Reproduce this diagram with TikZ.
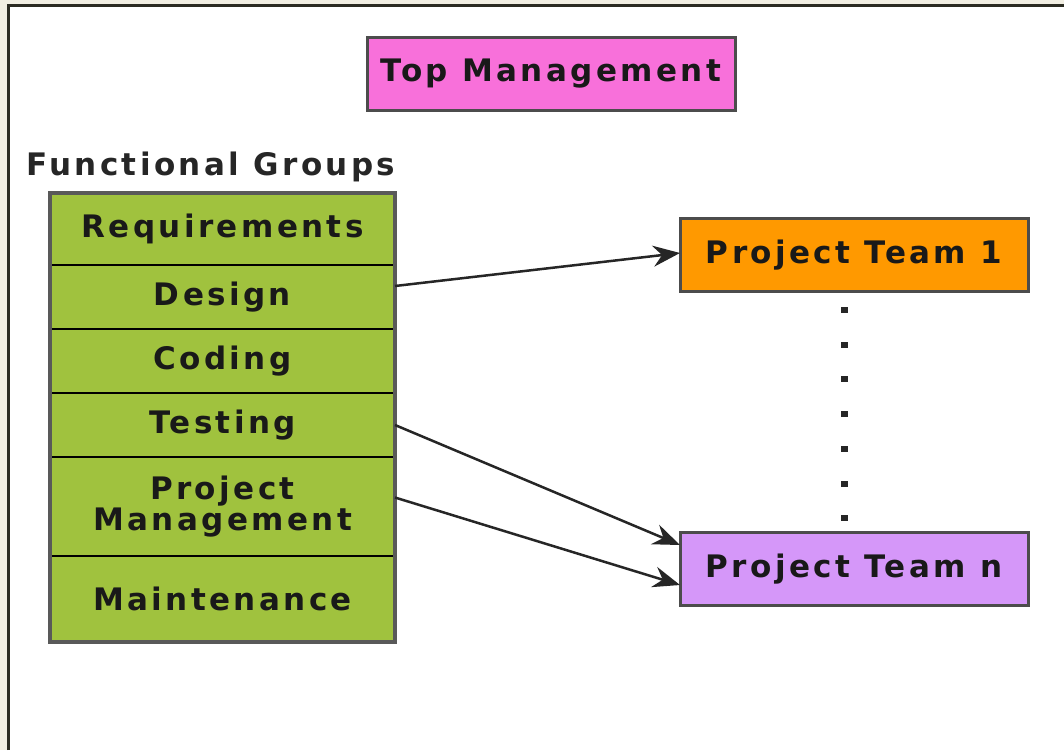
\documentclass[tikz,border=0pt]{standalone}
\usepackage{fontspec}
\newfontfamily\diafont[LetterSpace=11]{DejaVu Sans}
\usetikzlibrary{arrows.meta}
\definecolor{cream}{HTML}{F1EEE2}
\definecolor{framec}{HTML}{2B2B22}
\definecolor{topc}{HTML}{F870DA}
\definecolor{grpc}{HTML}{A0C23E}
\definecolor{teamone}{HTML}{FF9900}
\definecolor{teamn}{HTML}{D597F9}
\tikzset{
  box/.style={draw=black!70, line width=3pt, inner sep=0pt, outer sep=0pt, text=black!90,
    font=\diafont\bfseries\fontsize{31}{32}\selectfont, minimum height=73pt},
  grp/.style={draw=black, line width=1.5pt, fill=grpc, inner sep=0pt, outer sep=0pt,
    text=black!90, minimum width=345pt, align=center,
    font=\diafont\bfseries\fontsize{31}{31}\selectfont},
  arr/.style={-{Stealth[length=27pt,width=21pt,inset=9pt]}, line width=2.5pt, black!85},
}

\begin{document}
\begin{tikzpicture}[x=1pt, y=-1pt]
  \useasboundingbox (0,0) rectangle (1064,750);
  \fill[cream] (0,0) rectangle (1064,750);
  \fill[white] (8,5) rectangle (1064,750);
  \draw[framec, line width=3pt] (8,750) -- (8,5) -- (1064,5);

  \node[box, fill=topc, minimum width=368pt] (top) at (551,73.5) {Top Management};
  \node[font=\diafont\bfseries\fontsize{31}{32}\selectfont, text=black!85, anchor=west, inner sep=0pt] (fg) at (26,167) {Functional Groups};

  \node[grp, minimum height=72pt] (req) at (222.5,229) {Requirements};
  \node[grp, minimum height=64pt, anchor=north] (design) at (req.south) {Design};
  \node[grp, minimum height=64pt, anchor=north] (coding) at (design.south) {Coding};
  \node[grp, minimum height=64pt, anchor=north] (testing) at (coding.south) {Testing};
  \node[grp, minimum height=99pt, anchor=north] (pm) at (testing.south) {Project\\Management};
  \node[grp, minimum height=86pt, anchor=north] (maint) at (pm.south) {Maintenance};
  \draw[black!65, line width=3.5pt] (req.north west) rectangle (maint.south east);

  \node[box, fill=teamone, minimum width=348pt] (pt1) at (854,255) {Project Team 1};
  \node[box, fill=teamn, minimum width=348pt] (ptn) at (854,569) {Project Team n};

  \foreach \i in {0,...,6}
    \fill[black!85] (841,{307+34.7*\i}) rectangle ++(7,6);

  \draw[arr] ([yshift=11pt]design.east) -- ([yshift=2pt]pt1.west);
  \draw[arr] (testing.east) -- ([yshift=24pt]ptn.west);
  \draw[arr] ([yshift=9pt]pm.east) -- ([yshift=-16pt]ptn.west);
\end{tikzpicture}
\end{document}
